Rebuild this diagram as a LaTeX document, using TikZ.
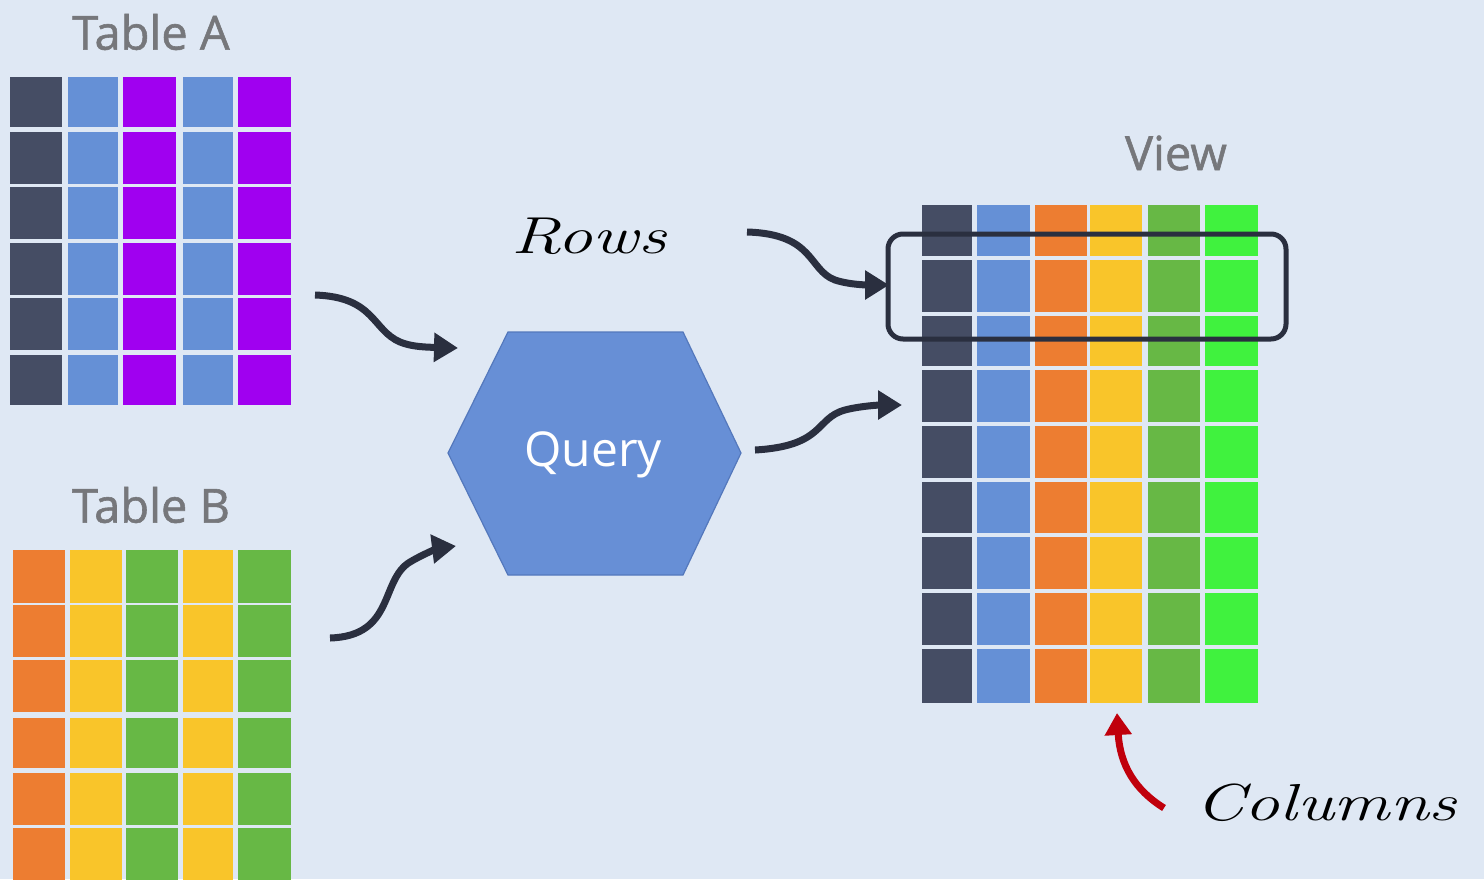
\documentclass[tikz,border=0pt]{standalone}
\usepackage{fontspec}
\newfontfamily\uisans{Open Sans}
\newfontfamily\uisemi[FakeBold=1.2]{Open Sans}
\usetikzlibrary{arrows.meta}
\definecolor{bg}{HTML}{DFE8F4}
\definecolor{cdark}{HTML}{454D64}
\definecolor{cblue}{HTML}{6590D6}
\definecolor{cpurple}{HTML}{A000F0}
\definecolor{corange}{HTML}{ED7D31}
\definecolor{cyellow}{HTML}{F9C52A}
\definecolor{cgreen}{HTML}{67B845}
\definecolor{clime}{HTML}{40F23E}
\definecolor{arrowdark}{HTML}{2A2F3F}
\definecolor{hexfill}{HTML}{678FD6}
\definecolor{hexline}{HTML}{5478BC}
\definecolor{titlegray}{HTML}{76777B}
\definecolor{cred}{HTML}{C0000C}
\tikzset{
  title/.style={text=titlegray, font=\uisemi\fontsize{47}{50}\selectfont, inner sep=0pt},
  hand/.style={text=black, font=\itshape\fontsize{52}{56}\selectfont, inner sep=0pt},
  bigarrow/.style={draw=arrowdark, line width=7pt, -{Triangle[length=24pt,width=28pt]}},
  redarrow/.style={draw=cred, line width=7pt, -{Triangle[length=22pt,width=26pt]}},
}
\begin{document}
\begin{tikzpicture}[x=1pt,y=-1pt]
\useasboundingbox (0,0) rectangle (1484,879);
\fill[bg] (0,0) rectangle (1484,879);

% Table A
\foreach \xa/\xb/\c in {10/62/cdark,68/118/cblue,123/176/cpurple,183/233/cblue,238/291/cpurple}
  \foreach \ya/\yb in {77/127,132/184,187/239,243/295,298/350,355/405}
    \fill[\c] (\xa,\ya) rectangle (\xb,\yb);

% Table B
\foreach \xa/\xb/\c in {13/65/corange,70/122/cyellow,126/178/cgreen,183/233/cyellow,238/291/cgreen}
  \foreach \ya/\yb in {550/603,605/657,660/712,718/768,773/825,828/885}
    \fill[\c] (\xa,\ya) rectangle (\xb,\yb);

% View
\foreach \xa/\xb/\c in {922/972/cdark,977/1030/cblue,1035/1087/corange,1090/1142/cyellow,1148/1200/cgreen,1205/1258/clime}
  \foreach \ya/\yb in {205/256,260/312,316/366,370/422,426/478,482/533,537/589,593/645,649/703}
    \fill[\c] (\xa,\ya) rectangle (\xb,\yb);

% titles
\node[title] (tA) at (151,32) {Table A};
\node[title] (tB) at (151,505) {Table B};
\node[title] (tV) at (1176,153) {View};

% query hexagon
\filldraw[fill=hexfill, draw=hexline, line width=1.2pt]
  (448,453) -- (508,332) -- (683,332) -- (741,453) -- (683,575) -- (508,575) -- cycle;
\node[text=white, font=\uisans\fontsize{48}{52}\selectfont, inner sep=0pt] (query) at (593,455) {Query};

% row highlight box
\draw[draw=arrowdark, line width=5pt, rounded corners=15pt] (888,234) rectangle (1286,339);

% handwritten labels
\node[hand, xscale=1.35] (rows) at (589,236) {Rows};
\node[hand, xscale=1.35] (cols) at (1326,803) {Columns};

% connector anchor points
\coordinate (aStart) at (315,295);
\coordinate (aEnd) at (458,348);
\coordinate (bStart) at (330,638);
\coordinate (bEnd) at (456,546);
\coordinate (qStart) at (755,450);
\coordinate (qEnd) at (902,405);
\coordinate (rStart) at (747,232);
\coordinate (rEnd) at (889,285);
\coordinate (cStart) at (1164,808);
\coordinate (cEnd) at (1117,713);

\draw[bigarrow] (aStart) .. controls (375,297) and (372,330) .. (400,342) .. controls (410,346) and (420,347) .. (aEnd);
\draw[bigarrow] (bStart) .. controls (395,636) and (380,580) .. (410,562) .. controls (425,553) and (440,548) .. (bEnd);
\draw[bigarrow] (qStart) .. controls (825,446) and (815,418) .. (845,410) .. controls (860,406) and (880,405) .. (qEnd);
\draw[bigarrow] (rStart) .. controls (815,234) and (808,270) .. (835,280) .. controls (850,285) and (870,285) .. (rEnd);
\draw[redarrow] (cStart) .. controls (1135,790) and (1120,765) .. (cEnd);
\end{tikzpicture}
\end{document}
